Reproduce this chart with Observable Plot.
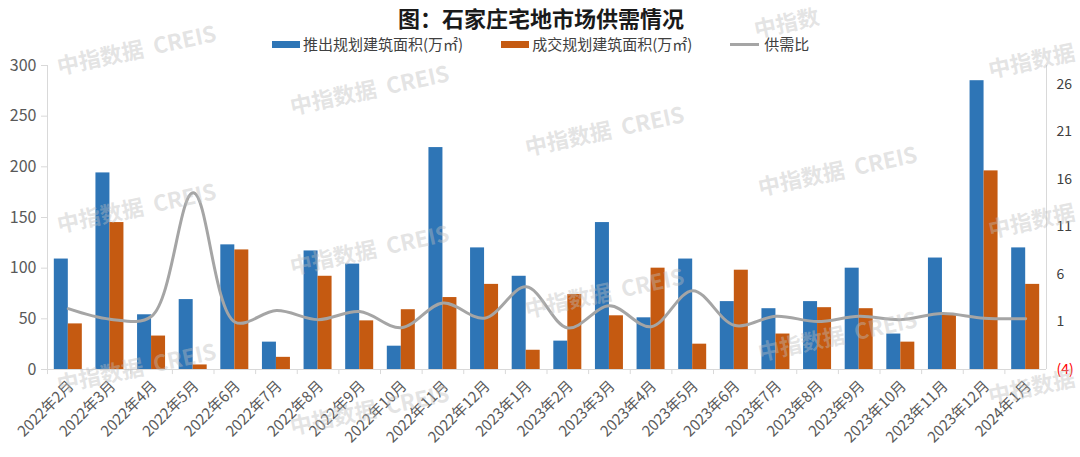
<!DOCTYPE html>
<html><head><meta charset="utf-8">
<script src="https://cdn.jsdelivr.net/npm/d3@7"></script>
<script src="https://cdn.jsdelivr.net/npm/@observablehq/plot@0.6"></script>
<style>
body{margin:0;background:#fff;font-family:"Noto Sans CJK SC","Noto Sans",sans-serif;}
#wrap{position:relative;width:1080px;height:457px;overflow:hidden;background:#fff;}
#title{position:absolute;top:2px;left:1px;width:1080px;text-align:center;font-size:22px;font-weight:bold;color:#1a1a1a;line-height:30px;}
#legend{position:absolute;top:34px;left:272px;display:flex;font-size:15px;color:#404040;line-height:20px;white-space:nowrap;}
.item{display:flex;align-items:center;gap:3px;margin-right:38px}
.item:last-child{margin-right:0}
.sw{width:28px;height:7px}
.ln{width:29px;height:3px;background:#a5a5a5;margin-right:2px}
.chart{position:absolute;left:0;top:55px}
#wm{position:absolute;left:0;top:0;pointer-events:none}
</style></head>
<body><div id="wrap">
<div id="title">图：石家庄宅地市场供需情况</div>
<div id="legend">
 <div class="item"><div class="sw" style="background:#2e75b6"></div><span>推出规划建筑面积(万㎡)</span></div>
 <div class="item"><div class="sw" style="background:#c55a11"></div><span>成交规划建筑面积(万㎡)</span></div>
 <div class="item"><div class="ln"></div><span>供需比</span></div>
</div>
<div id="c1" class="chart"></div>
<div id="c2" class="chart"></div>
</div>
<script>
const months = ["2022年2月","2022年3月","2022年4月","2022年5月","2022年6月","2022年7月","2022年8月","2022年9月","2022年10月","2022年11月","2022年12月","2023年1月","2023年2月","2023年3月","2023年4月","2023年5月","2023年6月","2023年7月","2023年8月","2023年9月","2023年10月","2023年11月","2023年12月","2024年1月"];
const supply = [109,194,54,69,123,27,117,104,23,219,120,92,28,145,51,109,67,60,67,100,35,110,285,120];
const deal = [45,145,33,4.5,118,12,92,48,59,71,84,19,74,53,100,25,98,35,61,60,27,55,196,84];
const ratio = [2.4,1.3,1.6,14.6,1.0,2.2,1.25,2.1,0.4,3.0,1.4,4.7,0.37,2.7,0.5,4.3,0.65,1.6,1.05,1.6,1.25,1.9,1.4,1.35];
const leftTicks = [0,50,100,150,200,250,300];
const rightTicks = [-4,1,6,11,16,21,26];
const watermark = "中指数据  CREIS";
const watermarkShort = "中指数据";
const watermarkTiny = "中指数";

const W=1080,H=402,MT=10,MB=88,ML=47,MR=34;
const bw=(W-ML-MR)/months.length;
const barW=14;
const rows = months.map((m,i)=>({month:m,supply:supply[i],deal:deal[i],ratio:ratio[i]}));
const font = '"Noto Sans CJK SC","Noto Sans",sans-serif';
const grid = "#d9d9d9";

const p1 = Plot.plot({
  width:W,height:H,marginTop:MT,marginBottom:MB,marginLeft:ML,marginRight:MR,
  style:{fontFamily:font,background:"transparent",overflow:"visible"},
  x:{type:"band",domain:months,padding:0,round:false,label:null},
  y:{domain:[0,300],label:null},
  marks:[
    Plot.barY(rows,{x:"month",y:"supply",fill:"#2e75b6",insetLeft:bw/2-barW,insetRight:bw/2}),
    Plot.barY(rows,{x:"month",y:"deal",fill:"#c55a11",insetLeft:bw/2,insetRight:bw/2-barW}),
    Plot.ruleY([0],{stroke:grid}),
    Plot.ruleX([months[0]],{x:d=>d,dx:-bw/2,stroke:grid}),
    Plot.ruleX(months,{x:d=>d,dx:-bw/2,y1:0,y2:-5,stroke:grid}),
    Plot.axisY({ticks:leftTicks,tickSize:6,tickPadding:5,fontSize:16,label:null,fill:"#595959",stroke:grid}),
    Plot.axisX({tickRotate:-45,tickSize:0,tickPadding:14,dx:3,fontSize:15,label:null,fill:"#595959"})
  ]
});
document.getElementById("c1").appendChild(p1);

const p2 = Plot.plot({
  width:W,height:H,marginTop:MT,marginBottom:MB,marginLeft:ML,marginRight:MR,
  style:{fontFamily:font,background:"transparent",overflow:"visible"},
  x:{type:"point",domain:months,padding:0.5,round:false,label:null,axis:null},
  y:{domain:[-4,28],label:null,axis:null},
  marks:[
    Plot.line(rows,{x:"month",y:"ratio",stroke:"#a5a5a5",strokeWidth:3,curve:"catmull-rom"}),
    Plot.ruleX([months[months.length-1]],{x:d=>d,dx:bw/2,stroke:grid}),
    Plot.axisY({anchor:"right",ticks:rightTicks,tickSize:0,tickPadding:10,fontSize:14,label:null,fill:"#404040",
      tickFormat:d=>d<0?`(${-d})`:String(d)})
  ]
});
document.getElementById("c2").appendChild(p2);
d3.select(p2).selectAll("text").filter(function(){return this.textContent.startsWith("(");}).attr("fill","#ff0000");

// watermark overlay
const wmFull = [[137,52],[370,92],[605,133],[838,173],[137,210],[370,252],[605,295],[838,338],[137,370],[370,412]];
const wmEdge = [[1032,63,watermarkShort],[1032,223,watermarkShort],[1032,389,watermarkShort],[787,25,watermarkTiny]];
const wmAll = wmFull.map(d=>[d[0],d[1],watermark]).concat(wmEdge);
const svg = d3.select("#wrap").append("svg").attr("id","wm").attr("width",W).attr("height",457);
svg.selectAll("text").data(wmAll).join("text")
  .attr("transform",d=>`translate(${d[0]},${d[1]}) rotate(-12)`)
  .attr("text-anchor","middle").attr("dominant-baseline","middle")
  .attr("font-family",font).attr("font-weight","bold").attr("font-size",22)
  .attr("fill","rgba(190,190,190,0.42)").style("white-space","pre")
  .text(d=>d[2]);
</script>
</body></html>
